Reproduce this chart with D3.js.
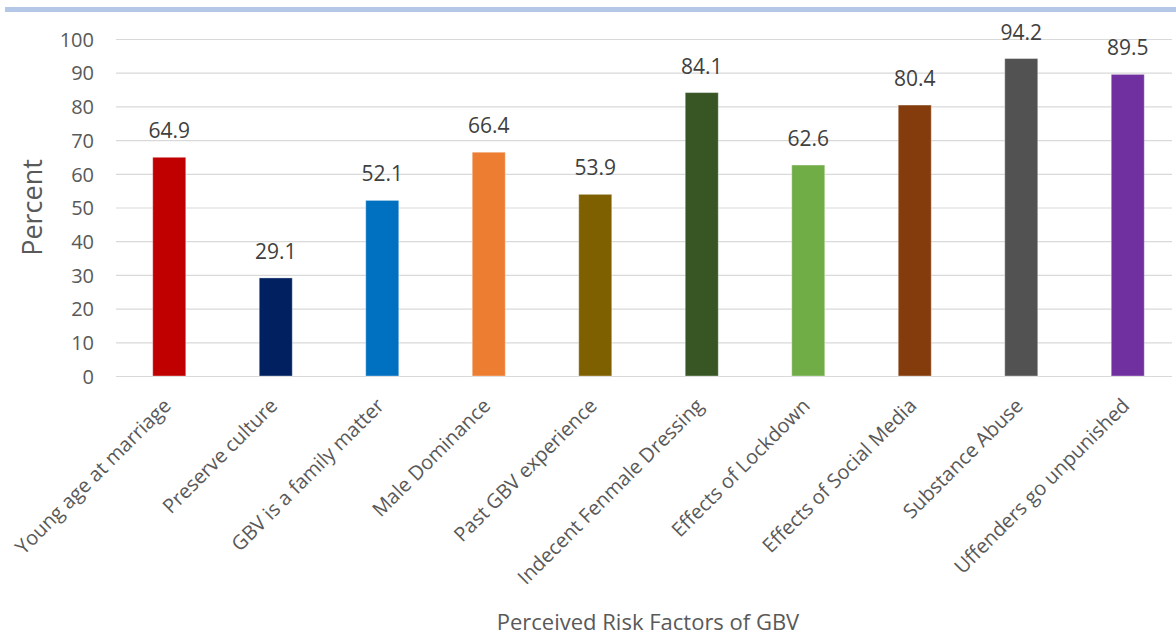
<!DOCTYPE html>
<html>
<head>
<meta charset="utf-8">
<script src="https://cdn.jsdelivr.net/npm/d3@7"></script>
<style>
  html, body { margin: 0; padding: 0; background: #fff; }
  svg { display: block; font-family: "Open Sans", "Noto Sans", sans-serif; }
</style>
</head>
<body>
<svg id="chart" width="1176" height="639"></svg>
<script>
// Perceived risk factors of gender-based violence (percent of respondents)
const categories = [
  "Young age at marriage",
  "Preserve culture",
  "GBV is a family matter",
  "Male Dominance",
  "Past GBV experience",
  "Indecent Fenmale Dressing",
  "Effects of Lockdown",
  "Effects of Social Media",
  "Substance Abuse",
  "Uffenders go unpunished"
];
const values = [64.9, 29.1, 52.1, 66.4, 53.9, 84.1, 62.6, 80.4, 94.2, 89.5];
const barColors = ["#C00000", "#002060", "#0070C0", "#ED7D31", "#7F6000",
                   "#375623", "#70AD47", "#843C0C", "#525252", "#7030A0"];
const yTicks = [0, 10, 20, 30, 40, 50, 60, 70, 80, 90, 100];
const yTitle = "Percent";
const xTitle = "Perceived Risk Factors of GBV";

const FONT = '"Open Sans", "Noto Sans", sans-serif';
const svg = d3.select("#chart");
const W = 1176, H = 639;
const plot = { left: 116, right: 1181, top: 39, bottom: 376 };

// decorative band along the top edge
svg.append("rect")
  .attr("x", 5).attr("y", 7).attr("width", W - 5).attr("height", 5)
  .attr("fill", "#B4C7E7");

const x = d3.scaleBand()
  .domain(categories)
  .range([plot.left, plot.right])
  .paddingInner(0.69)
  .paddingOuter(0.345);

const y = d3.scaleLinear()
  .domain([0, 100])
  .range([plot.bottom, plot.top]);

// gridlines + y tick labels
const yAxis = svg.append("g")
  .attr("transform", `translate(${plot.left},0)`)
  .call(d3.axisLeft(y).tickValues(yTicks).tickSize(-(W - 4 - plot.left)).tickPadding(22))
  .attr("font-family", FONT);
yAxis.select(".domain").remove();
yAxis.selectAll(".tick line").attr("stroke", "#D9D9D9").attr("stroke-width", 1.2);
yAxis.selectAll(".tick text")
  .attr("fill", "#595959")
  .attr("dy", "0.36em")
  .style("font-size", "20px");

// bars
svg.append("g").selectAll("rect")
  .data(values)
  .join("rect")
  .attr("x", (d, i) => x(categories[i]))
  .attr("y", d => y(d))
  .attr("width", x.bandwidth())
  .attr("height", d => y(0) - y(d))
  .attr("fill", (d, i) => barColors[i])
  .attr("stroke", "#ffffff")
  .attr("stroke-opacity", 0.35)
  .attr("stroke-width", 1);

// value labels
svg.append("g").selectAll("text")
  .data(values)
  .join("text")
  .attr("x", (d, i) => x(categories[i]) + x.bandwidth() / 2)
  .attr("y", d => y(d) - 19)
  .attr("text-anchor", "middle")
  .attr("fill", "#404040")
  .style("font-size", "21px")
  .text(d => d.toFixed(1));

// category labels, rotated
const xAxis = svg.append("g")
  .attr("transform", `translate(0,${plot.bottom})`)
  .call(d3.axisBottom(x).tickSize(0).tickPadding(0))
  .attr("font-family", FONT);
xAxis.select(".domain").remove();
xAxis.selectAll(".tick text")
  .attr("fill", "#595959")
  .style("font-size", "20px")
  .attr("text-anchor", "end")
  .attr("y", 0)
  .attr("dy", "0")
  .attr("transform", "translate(3,31) rotate(-45)");

// axis titles
svg.append("text")
  .attr("transform", `translate(42,${(plot.top + plot.bottom) / 2}) rotate(-90)`)
  .attr("text-anchor", "middle")
  .attr("fill", "#595959")
  .style("font-size", "27px")
  .text(yTitle);

svg.append("text")
  .attr("x", 648).attr("y", 630)
  .attr("text-anchor", "middle")
  .attr("fill", "#595959")
  .style("font-size", "22px")
  .text(xTitle);
</script>
</body>
</html>
